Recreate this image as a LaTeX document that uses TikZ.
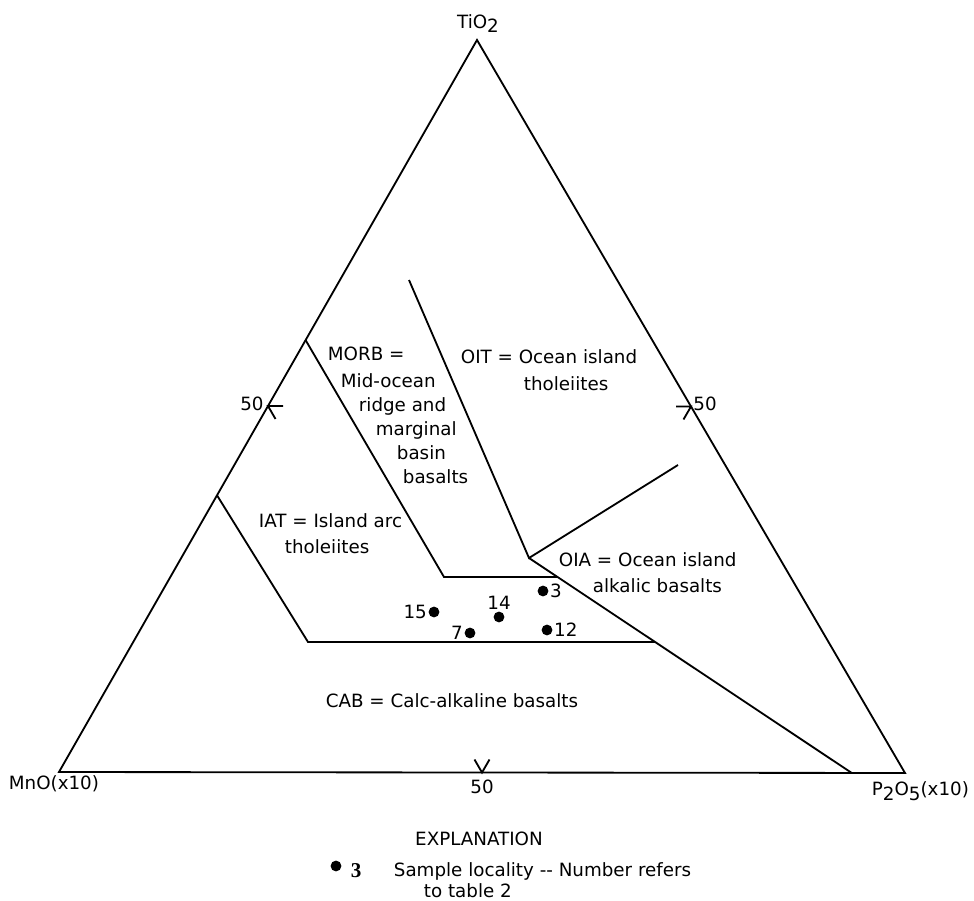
\documentclass[tikz,border=0pt]{standalone}
\usepackage{fontspec}
\setmainfont{DejaVu Sans}
\newfontfamily\legendfont{Liberation Serif}
\usetikzlibrary{calc}
\newcommand{\chemsub}[1]{\raisebox{-0.5ex}{#1}}

\begin{document}
\begin{tikzpicture}[x=0.025cm, y=-0.025cm, line width=1.3pt]
        \tikzstyle{every node}=[inner sep=0pt, font=\fontsize{13}{17}\selectfont]
        \tikzstyle{sample}=[circle, fill, minimum size=0.27cm, label distance=0.075cm]

        \useasboundingbox (0,0) rectangle (974,901);

        % triangle
        \coordinate (ti) at (477,40);
        \coordinate (mn) at (59,772);
        \coordinate (p2o5) at (905,773);
        \draw (ti) -- (mn) -- (p2o5) -- cycle;

        \node (tilab) [anchor=base] at (478,28) {TiO\chemsub{2}};
        \node (mnlab) [anchor=base west] at (8,789) {MnO(x10)};
        \node (plab)  [anchor=base west] at (871,795) {P\chemsub{2}O\chemsub{5}(x10)};

        % 50 ticks
        \coordinate (midl) at ($(mn)!0.5!(ti)$);
        \coordinate (midr) at ($(p2o5)!0.5!(ti)$);
        \coordinate (midb) at ($(mn)!0.5!(p2o5)$);
        \foreach \m/\a in {midl/30, midr/150, midb/-90}
            \draw ($(\m)+({\a+30}:15)$) -- (\m) -- ($(\m)+({\a-30}:15)$);
        \node (l50) [anchor=base] at (252,410) {50};
        \node (r50) [anchor=base] at (705,410) {50};
        \node (b50) [anchor=base] at (482,793) {50};

        % field boundaries
        \coordinate (morbtop)  at ($(mn)!0.59!(ti)$);
        \coordinate (morbbend) at (444,577);
        \coordinate (jct)      at (529,558);
        \coordinate (oittop)   at (409,280);
        \coordinate (oiaend)   at (678,465);
        \coordinate (oiabase)  at ($(mn)!0.937!(p2o5)$);
        \coordinate (morbend)  at ($(jct)!0.088!(oiabase)$);
        \coordinate (iattop)   at ($(mn)!0.378!(ti)$);
        \coordinate (iatbend)  at (308,642);
        \coordinate (iatend)   at ($(jct)!0.391!(oiabase)$);

        \draw (morbtop) -- (morbbend) -- (morbend);
        \draw (oittop) -- (jct) -- (oiaend);
        \draw (jct) -- (oiabase);
        \draw (iattop) -- (iatbend) -- (iatend);

        % field names
        \node (morb1) [anchor=base west] at (327,360) {MORB =};
        \node (morb2) [anchor=base west] at (340,387) {Mid-ocean};
        \node (morb3) [anchor=base west] at (358,411) {ridge and};
        \node (morb4) [anchor=base west] at (375,435) {marginal};
        \node (morb5) [anchor=base west] at (396,459) {basin};
        \node (morb6) [anchor=base west] at (402,483) {basalts};
        \node (oit1) [anchor=base west] at (460,363) {OIT = Ocean island};
        \node (oit2) [anchor=base west] at (523,390) {tholeiites};
        \node (iat1) [anchor=base west] at (258,527) {IAT = Island arc};
        \node (iat2) [anchor=base west] at (284,553) {tholeiites};
        \node (oia1) [anchor=base west] at (558,566) {OIA = Ocean island};
        \node (oia2) [anchor=base west] at (592,592) {alkalic basalts};
        \node (cab) [anchor=base] at (452,707) {CAB = Calc-alkaline basalts};

        % samples
        \foreach \n/\x/\y/\side in {15/434/612/left, 7/470/633/left, 14/499/617/above, 3/543/591/right, 12/547/630/right}
            \node (s\n) [sample, label=\side:\n] at (\x,\y) {};

        % explanation
        \node (expl) [anchor=base] at (479,845) {EXPLANATION};
        \node (legdot) [sample] at (336,866) {};
        \node (legnum) [anchor=base west, font=\legendfont\bfseries\fontsize{15}{17}\selectfont] at (350,877) {3};
        \node (legtxt1) [anchor=base west] at (393,876) {Sample locality {-}{-} Number refers};
        \node (legtxt2) [anchor=base west] at (423,897) {to table 2};
    \end{tikzpicture}
\end{document}
